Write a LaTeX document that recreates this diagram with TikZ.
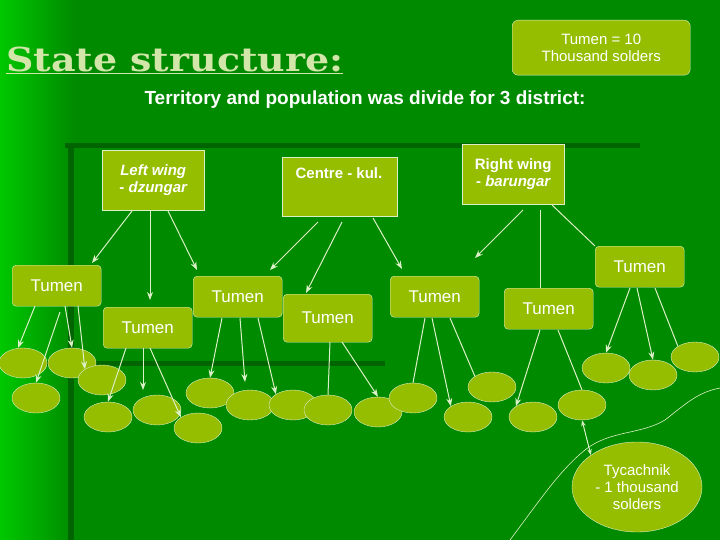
\documentclass[tikz,border=0pt]{standalone}
\usepackage{fontspec}
\setmainfont{Liberation Sans}
\newfontfamily\titlefont[FakeStretch=1.15]{DejaVu Serif}
\usetikzlibrary{shapes.geometric,arrows.meta}
\definecolor{bg}{RGB}{0,138,0}
\definecolor{bgl}{RGB}{0,200,0}
\definecolor{bx}{RGB}{150,190,0}
\definecolor{dk}{RGB}{0,100,0}
\definecolor{ttl}{RGB}{210,230,170}
\definecolor{ln}{RGB}{220,240,200}
\tikzset{
 sq/.style={draw=ln,fill=bx,text=white,font=\fontsize{15}{17}\selectfont,align=center,inner sep=0pt,anchor=north west},
 tm/.style={draw=ln,fill=bx,text=white,font=\fontsize{17}{19}\selectfont,rounded corners=4pt,minimum width=89pt,minimum height=41pt,inner sep=0pt,anchor=north west},
 el/.style={ellipse,draw=ln,fill=bx,minimum width=48pt,minimum height=30pt,inner sep=0pt},
 ar/.style={draw=ln,line width=1pt,-{Stealth[length=8pt,width=6pt]}},
 pl/.style={draw=ln,line width=1pt}
}
\begin{document}
\begin{tikzpicture}[x=1pt,y=-1pt]
\useasboundingbox (0,0) rectangle (720,540);
\fill[bg] (0,0) rectangle (720,540);
\shade[left color=bgl,right color=bg] (0,0) rectangle (75,540);
\fill[dk] (65,143) rectangle (640,148);
\fill[dk] (68,145) rectangle (74,540);
\fill[dk] (0,361) rectangle (385,366);
% title
\node[anchor=west,text=ttl,font=\titlefont\bfseries\fontsize{33}{35}\selectfont,inner sep=0pt] (title) at (6,60) {\underline{State structure:}};
\node[draw=ln,fill=bx,rounded corners=6pt,text=white,align=center,font=\fontsize{15}{17}\selectfont,minimum width=178pt,minimum height=55pt,anchor=north west,inner sep=0pt] (note) at (512,20) {Tumen = 10\\Thousand solders};
\node[text=white,font=\bfseries\fontsize{19}{21}\selectfont,inner sep=0pt] (sub) at (365,100) {Territory and population was divide for 3 district:};
% top boxes
\node[sq,minimum width=102pt,minimum height=60pt] (lw) at (102,150) {\bfseries\itshape Left wing\\\bfseries\itshape - dzungar};
\node[sq,minimum width=115pt,minimum height=59pt,anchor=north west] (ce) at (282,157) {};
\node[text=white,font=\bfseries\fontsize{15}{17}\selectfont,anchor=north,inner sep=0pt] (cet) at (339,167) {Centre - kul.};
\node[sq,minimum width=102pt,minimum height=60pt] (rw) at (462,144) {\bfseries Right wing\\\bfseries - \itshape barungar};
% tumens
\node[tm] (t1) at (12,265) {Tumen};
\node[tm] (t2) at (103,307) {Tumen};
\node[tm] (t3) at (193,276) {Tumen};
\node[tm,minimum height=48pt] (t4) at (283,294) {Tumen};
\node[tm] (t5) at (390,276) {Tumen};
\node[tm] (t6) at (504,288) {Tumen};
\node[tm] (t7) at (595,246) {Tumen};
% ellipses
\foreach \n/\x/\y in {e1/23/363,e2/72/363,e3/102/380,e4/36/398,e5/108/417,e6/157/410,e7/198/428,e8/210/393,e9/250/405,e10/293/405,e11/328/410,e12/378/412,e13/413/398,e14/492/387,e15/468/417,e16/533/417,e17/582/405,e18/606/368,e19/653/375,e20/695/357}
  \node[el] (\n) at (\x,\y) {};
\node[ellipse,draw=ln,fill=bx,text=white,align=center,font=\fontsize{15}{17}\selectfont,minimum width=130pt,minimum height=90pt,inner sep=0pt] (ty) at (637,487) {Tycachnik\\- 1 thousand\\solders};
% wavy line
\draw[ln,line width=0.6pt] (510,540) .. controls (540,500) and (560,470) .. (585,450) .. controls (610,430) and (640,435) .. (665,420) .. controls (690,400) and (700,392) .. (720,388);
\coordinate (c1) at (92,263); \draw[ar] (132,211) -- (c1);
\coordinate (c2) at (150,300); \draw[ar] (150,211) -- (c2);
\coordinate (c3) at (197,270); \draw[ar] (168,211) -- (c3);
\coordinate (c4) at (270,270); \draw[ar] (318,222) -- (c4);
\coordinate (c5) at (306,293); \draw[ar] (342,222) -- (c5);
\coordinate (c6) at (402,269); \draw[ar] (373,218) -- (c6);
\coordinate (c7) at (475,258); \draw[ar] (523,210) -- (c7);
\draw[pl] (540,210) -- (t6.north -| 540,0);
\draw[pl] (552,205) -- (t7.north west);
\coordinate (d1) at (18,348); \draw[ar] (35,306) -- (d1);
\draw[ar] (60,312) -- (e4.north);
\draw[ar] (65,306) -- (e2.north);
\draw[ar] (78,306) -- (e3.north west);
\draw[ar] (126,348) -- (e5.north);
\coordinate (d2) at (143,390); \draw[ar] (143,348) -- (d2);
\draw[ar] (150,348) -- (e7.north west);
\draw[ar] (222,318) -- (e8.north);
\coordinate (d3) at (245,382); \draw[ar] (240,318) -- (d3);
\draw[ar] (258,318) -- (e10.north west);
\draw[pl] (330,342) -- (e11.north);
\draw[ar] (342,342) -- (e12.north);
\draw[pl] (425,318) -- (e13.north);
\draw[ar] (432,318) -- (e15.north west);
\draw[pl] (450,318) -- (e14.north west);
\draw[ar] (540,330) -- (e16.north west);
\draw[pl] (558,330) -- (e17.north);
\draw[ar] (630,288) -- (e18.north);
\draw[ar] (637,288) -- (e19.north);
\draw[pl] (655,288) -- (e20.north west);
\draw[draw=ln,line width=1pt,{Stealth[length=6pt]}-{Stealth[length=6pt]}] (e17.south) -- (ty.north west);
\end{tikzpicture}
\end{document}
